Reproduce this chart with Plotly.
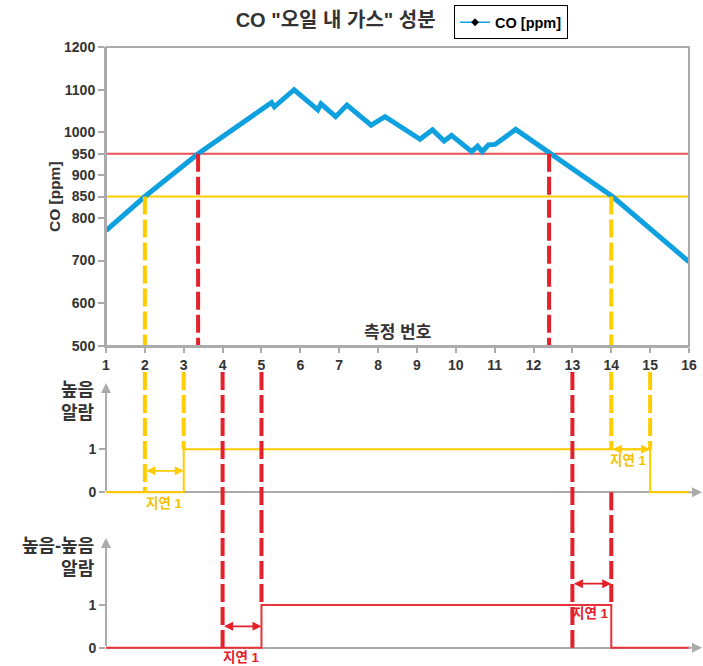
import plotly.graph_objects as go

# ---------------- data ----------------
measure_no = [1, 2, 3.37, 5.26, 5.33, 5.84, 6.45, 6.53, 6.91, 7.2, 7.82, 8.18,
              9.08, 9.4, 9.7, 9.89, 10.41, 10.56, 10.68, 10.84, 11.01, 11.54, 14.03, 16]
co_ppm = [770, 850, 950, 1070, 1060, 1100, 1053, 1067, 1037, 1064, 1017, 1037,
          984, 1006, 980, 993, 955, 968, 955, 971, 972, 1007, 850, 697]
x_ticks = list(range(1, 17))
y_ticks = [500, 600, 700, 800, 850, 900, 950, 1000, 1100, 1200]

high_limit = 850
highhigh_limit = 950
high_cross = [2, 14]            # CO crosses 850
highhigh_cross = [3.37, 12.4]   # CO crosses 950

high_alarm_x = [1, 3, 15, 16]
high_alarm_y = [0, 1, 0, 0]
hh_alarm_x = [1, 5, 14, 16]
hh_alarm_y = [0, 1, 0, 0]

delay_label = "지연 1"

# ---------------- style ----------------
FONT = "Liberation Sans, Arial, Noto Sans CJK KR, sans-serif"
TXT = "#333333"
GREY = "#ababab"
BLUE = "#0ea0df"
RED_D = "#e4202b"
RED_T = "#ea5058"
RED_S = "#e8333b"
YEL = "#ffcc00"
YEL_T = "#f5c200"
DASH = "18px,5px"

Y_RANGE = [500, 1200]
Y2_RANGE = [-0.528, 3.077]
Y3_RANGE = [-0.288, 3.108]
DASH_TOP2 = 2.8

fig = go.Figure()

fig.add_trace(go.Scatter(x=measure_no, y=co_ppm, mode="lines",
                         line=dict(color=BLUE, width=5), showlegend=False,
                         xaxis="x", yaxis="y"))
fig.add_trace(go.Scatter(x=[None], y=[None], mode="lines+markers", name="CO [ppm]",
                         line=dict(color=BLUE, width=1.5),
                         marker=dict(symbol="diamond", size=6, color="black"),
                         xaxis="x", yaxis="y"))
fig.add_trace(go.Scatter(x=high_alarm_x, y=high_alarm_y, mode="lines", line_shape="hv",
                         line=dict(color=YEL, width=2), showlegend=False,
                         xaxis="x", yaxis="y2"))
fig.add_trace(go.Scatter(x=hh_alarm_x, y=hh_alarm_y, mode="lines", line_shape="hv",
                         line=dict(color=RED_S, width=2), showlegend=False,
                         xaxis="x", yaxis="y3"))

shapes = []
# thresholds
shapes.append(dict(type="line", xref="x", yref="y", x0=x_ticks[0], x1=x_ticks[-1],
                   y0=highhigh_limit, y1=highhigh_limit, line=dict(color=RED_T, width=2), layer="below"))
shapes.append(dict(type="line", xref="x", yref="y", x0=x_ticks[0], x1=x_ticks[-1],
                   y0=high_limit, y1=high_limit, line=dict(color=YEL, width=2), layer="below"))


def vline(x, yref, y0, y1, color):
    shapes.append(dict(type="line", xref="x", yref=yref, x0=x, x1=x, y0=y0, y1=y1,
                       line=dict(color=color, width=4, dash=DASH), layer="above"))


# top panel drops
for xv in high_cross:
    vline(xv, "y", high_limit, Y_RANGE[0], YEL)
for xv in highhigh_cross:
    vline(xv, "y", highhigh_limit, Y_RANGE[0], RED_D)

# middle panel (high alarm)
vline(high_alarm_x[1] - 1, "y2", DASH_TOP2, 0, YEL)
for xv in [high_alarm_x[1], high_alarm_x[2] - 1, high_alarm_x[2]]:
    vline(xv, "y2", DASH_TOP2, 1, YEL)

# red lines through middle and bottom panel
for xv, yend in [(hh_alarm_x[1] - 1, 0), (hh_alarm_x[1], 1), (hh_alarm_x[2] - 1, 0)]:
    vline(xv, "y2", DASH_TOP2, Y2_RANGE[0], RED_D)
    vline(xv, "y3", Y3_RANGE[1], yend, RED_D)
vline(hh_alarm_x[2], "y2", 0, Y2_RANGE[0], RED_D)
vline(hh_alarm_x[2], "y3", Y3_RANGE[1], 1, RED_D)

# top panel frame
shapes.append(dict(type="rect", xref="x domain", yref="y domain", x0=0, x1=1, y0=0, y1=1,
                   line=dict(color=GREY, width=2), layer="above"))

annotations = []


def darrow(x0, x1, y, yref, color):
    annotations.append(dict(x=x1, y=y, xref="x", yref=yref, ax=x0, ay=y, axref="x", ayref=yref,
                            text="", showarrow=True, arrowside="end+start", arrowhead=2,
                            arrowsize=1, arrowwidth=1.8, arrowcolor=color))


darrow(2, 3, 0.5, "y2", YEL)
darrow(14, 15, 1.0, "y2", YEL)
darrow(4, 5, 0.5, "y3", RED_D)
darrow(13, 14, 1.5, "y3", RED_D)


def label(x, y, yref, color):
    annotations.append(dict(x=x, y=y, xref="x", yref=yref, text=delay_label, showarrow=False,
                            font=dict(family=FONT, size=13.5, color=color, weight="bold")))


label(2.5, -0.25, "y2", YEL_T)
label(14.45, 0.73, "y2", YEL_T)
label(4.49, -0.22, "y3", RED_D)
label(13.46, 0.79, "y3", RED_D)

# axis arrows for alarm panels
for yref, tip in [("y2", 2.545), ("y3", 2.57)]:
    annotations.append(dict(x=0, y=tip, xref="paper", yref=yref, ax=0, ay=0, axref="pixel",
                            ayref=yref, text="", showarrow=True, arrowhead=2, arrowsize=1,
                            arrowwidth=2, arrowcolor=GREY))
    annotations.append(dict(x=1.024, y=0, xref="paper", yref=yref, ax=-16, ay=0, axref="pixel",
                            ayref=yref, text="", showarrow=True, arrowhead=2, arrowsize=1,
                            arrowwidth=2, arrowcolor=GREY))

# panel titles
annotations.append(dict(x=-0.0154, y=2.11, xref="paper", yref="y2", text="높음<br>알람",
                        xanchor="right", yanchor="middle", align="right", showarrow=False,
                        font=dict(family=FONT, size=18, color=TXT, weight="bold")))
annotations.append(dict(x=-0.0154, y=2.11, xref="paper", yref="y3", text="높음-높음<br>알람",
                        xanchor="right", yanchor="middle", align="right", showarrow=False,
                        font=dict(family=FONT, size=18, color=TXT, weight="bold")))
annotations.append(dict(x=-0.0883, y=0.5, xref="paper", yref="y domain", text="CO [ppm]",
                        textangle=-90, xanchor="center", yanchor="middle", showarrow=False,
                        font=dict(family=FONT, size=15.5, color=TXT, weight="bold")))
annotations.append(dict(x=8.5, y=Y_RANGE[0], xref="x", yref="y", text="측정 번호",
                        xanchor="center", yanchor="bottom", yshift=2, showarrow=False,
                        font=dict(family=FONT, size=17, color=TXT, weight="bold")))

tickfont = dict(family=FONT, size=14, color=TXT, weight="bold")

fig.update_layout(
    width=703, height=666,
    margin=dict(l=106, r=14, t=47, b=6, autoexpand=False),
    paper_bgcolor="white", plot_bgcolor="white",
    title=dict(text='CO "오일 내 가스" 성분', x=0.4775, y=0.97, xanchor="center", yanchor="middle",
               font=dict(family=FONT, size=20, color=TXT, weight="bold")),
    showlegend=True,
    legend=dict(x=0.597, y=1.068, xanchor="left", yanchor="top", bgcolor="white",
                bordercolor="black", borderwidth=1, itemwidth=30,
                font=dict(family=FONT, size=14.5, color="black", weight="bold")),
    xaxis=dict(range=[x_ticks[0], x_ticks[-1]], tickvals=x_ticks, anchor="y",
               showgrid=False, zeroline=False, showline=True, linecolor=GREY, linewidth=2,
               ticks="outside", ticklen=5, tickcolor=GREY, tickwidth=1.5, tickfont=tickfont),
    yaxis=dict(domain=[0.5122, 1], range=Y_RANGE, tickvals=y_ticks, anchor="x",
               showgrid=False, zeroline=False, showline=True, linecolor=GREY, linewidth=2,
               ticks="outside", ticklen=6, tickcolor=GREY, tickwidth=1.5, tickfont=tickfont),
    yaxis2=dict(domain=[0.2365, 0.4894], range=Y2_RANGE, tickvals=[0, 1], anchor="x",
                showgrid=False, zeroline=True, zerolinecolor=GREY, zerolinewidth=2,
                showline=False, ticks="outside", ticklen=6, tickcolor=GREY, tickwidth=1.5,
                tickfont=tickfont),
    yaxis3=dict(domain=[0, 0.2365], range=Y3_RANGE, tickvals=[0, 1], anchor="x",
                showgrid=False, zeroline=True, zerolinecolor=GREY, zerolinewidth=2,
                showline=False, ticks="outside", ticklen=6, tickcolor=GREY, tickwidth=1.5,
                tickfont=tickfont),
    shapes=shapes,
    annotations=annotations,
)

fig.write_html("out.html", config={"displayModeBar": False},
               post_script="document.body.style.margin='0';document.body.style.padding='0';")
